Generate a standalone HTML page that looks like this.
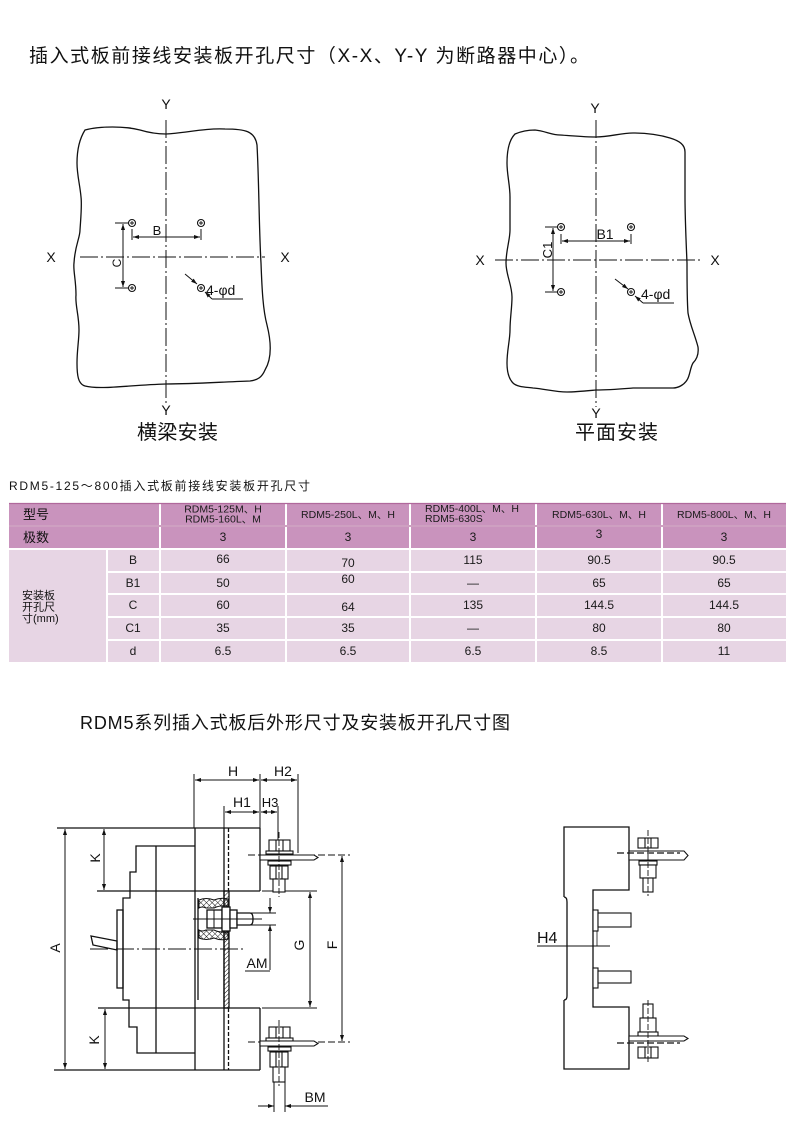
<!DOCTYPE html>
<html><head><meta charset="utf-8"><style>
html,body{margin:0;padding:0;background:#fff;}
svg{display:block;}
text{font-family:"Liberation Sans","Noto Sans CJK SC",sans-serif;fill:#111;}
.t{font-size:12px;fill:#1a1a1a;text-anchor:middle;}
.h{font-size:10.5px;fill:#1a1a1a;}
</style></head><body>
<svg width="790" height="1137" viewBox="0 0 790 1137" xmlns="http://www.w3.org/2000/svg">
<defs>
<marker id="ar" viewBox="0 0 10 10" refX="10" refY="5" markerWidth="6" markerHeight="6" orient="auto-start-reverse" markerUnits="userSpaceOnUse"><path d="M0,1.6L10,5L0,8.4z" fill="#111"/></marker>
<pattern id="hatch" width="3" height="3" patternUnits="userSpaceOnUse" patternTransform="rotate(45)"><line x1="0" y1="0" x2="0" y2="3" stroke="#111" stroke-width="1"/></pattern>
<pattern id="xh" width="4" height="4" patternUnits="userSpaceOnUse" patternTransform="rotate(45)"><path d="M0,0V4M0,0H4" stroke="#111" stroke-width="0.9" fill="none"/></pattern>
</defs>
<rect width="790" height="1137" fill="#fff"/>

<text x="29" y="62" font-size="19" textLength="560" lengthAdjust="spacing">插入式板前接线安装板开孔尺寸（X-X、Y-Y 为断路器中心）。</text>

<g stroke="#111" stroke-width="1.3" fill="none">
<path d="M85,130 C100,126 125,126 140,130 C150,133 158,134 166,134 C185,133 205,128 225,129 C245,129 255,131 257,145 C259,180 259,230 261,263 C262,290 263,310 267,325 C272,345 271,360 265,370 C262,377 258,380 250,381 C220,382 195,384 166,384 C130,385 100,390 85,386 C78,384 77,375 77,363 C77,350 79,340 79,330 C79,315 75,305 76,295 C76,280 73,270 74,263 C75,245 80,238 80,230 C81,215 82,205 81,197 C80,185 77,175 77,163 C77,150 80,138 85,130 Z"/>
<line x1="166" y1="120" x2="166" y2="405" stroke-width="1" stroke-dasharray="18 3 2 3"/>
<line x1="80" y1="257" x2="265" y2="257" stroke-width="1" stroke-dasharray="18 3 2 3"/>
<g stroke-width="1">
<line x1="132" y1="229" x2="132" y2="240"/>
<line x1="201" y1="229" x2="201" y2="240"/>
<line x1="133" y1="237" x2="200" y2="237" marker-start="url(#ar)" marker-end="url(#ar)"/>
<line x1="115" y1="223" x2="129" y2="223"/>
<line x1="115" y1="288" x2="129" y2="288"/>
<line x1="123" y1="224" x2="123" y2="287" marker-start="url(#ar)" marker-end="url(#ar)"/>
<line x1="185" y1="274" x2="197" y2="284" marker-end="url(#ar)"/>
<line x1="212" y1="299" x2="205" y2="292" marker-end="url(#ar)"/>
<line x1="212" y1="299" x2="243" y2="299"/>
</g>
<g stroke-width="1.1" fill="#fff">
<circle cx="132" cy="223" r="3.5"/><circle cx="201" cy="223" r="3.5"/>
<circle cx="132" cy="288" r="3.5"/><circle cx="201" cy="288" r="3.5"/>
</g>
<g stroke-width="0.9">
<path d="M130,223h4M132,221v4M199,223h4M201,221v4M130,288h4M132,286v4M199,288h4M201,286v4"/>
</g>
</g>
<text x="166" y="109" font-size="14" text-anchor="middle">Y</text>
<text x="166" y="415" font-size="14" text-anchor="middle">Y</text>
<text x="51" y="262" font-size="14" text-anchor="middle">X</text>
<text x="285" y="262" font-size="14" text-anchor="middle">X</text>
<text x="157" y="235" font-size="13" text-anchor="middle">B</text>
<text x="117" y="267" font-size="12" text-anchor="middle" transform="rotate(-90 117 263)">C</text>
<text x="206" y="295" font-size="14">4-φd</text>
<text x="137" y="439" font-size="20" textLength="81" lengthAdjust="spacing">横梁安装</text>

<g stroke="#111" stroke-width="1.3" fill="none">
<path d="M515,134 C522,131 528,130 535,130 C545,131 552,135 560,135 C575,136 585,137 596,137 C610,137 620,133 633,133 C648,133 660,135 670,138 C680,141 685,145 685,152 C685,165 685,180 685,197 C685,215 686,240 687,263 C687,285 687,300 688,313 C690,325 695,335 698,347 C699,355 696,360 693,363 C690,368 690,376 687,380 C684,385 678,388 673,388 C660,388 645,388 633,388 C620,389 608,390 596,390 C585,391 575,392 567,392 C555,392 545,389 533,388 C525,387 517,387 513,383 C508,378 507,370 507,363 C507,350 510,340 510,330 C510,318 512,308 512,297 C512,285 506,275 506,263 C506,250 510,240 510,230 C510,218 510,208 510,197 C510,185 507,175 507,163 C507,150 509,140 515,134 Z"/>
<line x1="596" y1="120" x2="596" y2="407" stroke-width="1" stroke-dasharray="18 3 2 3"/>
<line x1="495" y1="260" x2="702" y2="260" stroke-width="1" stroke-dasharray="18 3 2 3"/>
<g stroke-width="1">
<line x1="561" y1="234" x2="561" y2="244"/>
<line x1="631" y1="234" x2="631" y2="244"/>
<line x1="562" y1="241" x2="630" y2="241" marker-start="url(#ar)" marker-end="url(#ar)"/>
<line x1="545" y1="227" x2="558" y2="227"/>
<line x1="545" y1="292" x2="558" y2="292"/>
<line x1="553" y1="228" x2="553" y2="291" marker-start="url(#ar)" marker-end="url(#ar)"/>
<line x1="615" y1="279" x2="628" y2="289" marker-end="url(#ar)"/>
<line x1="643" y1="303" x2="635" y2="296" marker-end="url(#ar)"/>
<line x1="643" y1="303" x2="674" y2="303"/>
</g>
<g stroke-width="1.1" fill="#fff">
<circle cx="561" cy="227" r="3.5"/><circle cx="631" cy="227" r="3.5"/>
<circle cx="561" cy="292" r="3.5"/><circle cx="631" cy="292" r="3.5"/>
</g>
<g stroke-width="0.9">
<path d="M559,227h4M561,225v4M629,227h4M631,225v4M559,292h4M561,290v4M629,292h4M631,290v4"/>
</g>
</g>
<text x="595" y="113" font-size="14" text-anchor="middle">Y</text>
<text x="596" y="418" font-size="14" text-anchor="middle">Y</text>
<text x="480" y="265" font-size="14" text-anchor="middle">X</text>
<text x="715" y="265" font-size="14" text-anchor="middle">X</text>
<text x="605" y="239" font-size="14" text-anchor="middle">B1</text>
<text x="548" y="254" font-size="13" text-anchor="middle" transform="rotate(-90 548 250)">C1</text>
<text x="641" y="299" font-size="14">4-φd</text>
<text x="575" y="439" font-size="20" textLength="83" lengthAdjust="spacing">平面安装</text>

<text x="9" y="490" font-size="12" textLength="301" lengthAdjust="spacing">RDM5-125～800插入式板前接线安装板开孔尺寸</text>
<g fill="#c993bd">
<rect x="9" y="503" width="150" height="22"/>
<rect x="161" y="503" width="124" height="22"/>
<rect x="287" y="503" width="122" height="22"/>
<rect x="411" y="503" width="124" height="22"/>
<rect x="537" y="503" width="124" height="22"/>
<rect x="663" y="503" width="123" height="22"/>
<rect x="9" y="527" width="150" height="21"/>
<rect x="161" y="527" width="124" height="21"/>
<rect x="287" y="527" width="122" height="21"/>
<rect x="411" y="527" width="124" height="21"/>
<rect x="537" y="527" width="124" height="21"/>
<rect x="663" y="527" width="123" height="21"/>
</g>
<line x1="9" y1="503.5" x2="786" y2="503.5" stroke="#b0689c" stroke-width="1.2"/>
<line x1="9" y1="526" x2="786" y2="526" stroke="#b0689c" stroke-width="1.2"/>
<g fill="#e7d5e4">
<rect x="9" y="550" width="97" height="112"/>
<rect x="108" y="550" width="51" height="21"/>
<rect x="108" y="573" width="51" height="20"/>
<rect x="108" y="595" width="51" height="21"/>
<rect x="108" y="618" width="51" height="21"/>
<rect x="108" y="641" width="51" height="21"/>
<rect x="161" y="550" width="124" height="21"/><rect x="287" y="550" width="122" height="21"/><rect x="411" y="550" width="124" height="21"/><rect x="537" y="550" width="124" height="21"/><rect x="663" y="550" width="123" height="21"/>
<rect x="161" y="573" width="124" height="20"/><rect x="287" y="573" width="122" height="20"/><rect x="411" y="573" width="124" height="20"/><rect x="537" y="573" width="124" height="20"/><rect x="663" y="573" width="123" height="20"/>
<rect x="161" y="595" width="124" height="21"/><rect x="287" y="595" width="122" height="21"/><rect x="411" y="595" width="124" height="21"/><rect x="537" y="595" width="124" height="21"/><rect x="663" y="595" width="123" height="21"/>
<rect x="161" y="618" width="124" height="21"/><rect x="287" y="618" width="122" height="21"/><rect x="411" y="618" width="124" height="21"/><rect x="537" y="618" width="124" height="21"/><rect x="663" y="618" width="123" height="21"/>
<rect x="161" y="641" width="124" height="21"/><rect x="287" y="641" width="122" height="21"/><rect x="411" y="641" width="124" height="21"/><rect x="537" y="641" width="124" height="21"/><rect x="663" y="641" width="123" height="21"/>
</g>
<text x="23" y="519" font-size="13" fill="#1a1a1a">型号</text>
<text x="23" y="542" font-size="13" fill="#1a1a1a">极数</text>
<text class="h" x="223" y="512.5" text-anchor="middle">RDM5-125M、H</text>
<text class="h" x="223" y="522.5" text-anchor="middle">RDM5-160L、M</text>
<text class="h" x="348" y="518" text-anchor="middle" font-size="11.5">RDM5-250L、M、H</text>
<text class="h" x="425" y="512">RDM5-400L、M、H</text>
<text class="h" x="425" y="522">RDM5-630S</text>
<text class="h" x="599" y="518" text-anchor="middle" font-size="11.5">RDM5-630L、M、H</text>
<text class="h" x="724" y="518" text-anchor="middle" font-size="11.5">RDM5-800L、M、H</text>
<text class="t" x="223" y="541">3</text><text class="t" x="348" y="541">3</text><text class="t" x="473" y="541">3</text><text class="t" x="599" y="538">3</text><text class="t" x="724" y="541">3</text>
<text x="22" y="599" font-size="11" fill="#1a1a1a">安装板</text>
<text x="22" y="610.5" font-size="11" fill="#1a1a1a">开孔尺</text>
<text x="22" y="622" font-size="11" fill="#1a1a1a">寸(mm)</text>
<text class="t" x="133" y="564">B</text><text class="t" x="133" y="587">B1</text><text class="t" x="133" y="609">C</text><text class="t" x="133" y="632">C1</text><text class="t" x="133" y="655">d</text>
<text class="t" x="223" y="563">66</text><text class="t" x="348" y="567">70</text><text class="t" x="473" y="564">115</text><text class="t" x="599" y="564">90.5</text><text class="t" x="724" y="564">90.5</text>
<text class="t" x="223" y="587">50</text><text class="t" x="348" y="583">60</text><text class="t" x="473" y="587">—</text><text class="t" x="599" y="587">65</text><text class="t" x="724" y="587">65</text>
<text class="t" x="223" y="609">60</text><text class="t" x="348" y="611">64</text><text class="t" x="473" y="609">135</text><text class="t" x="599" y="609">144.5</text><text class="t" x="724" y="609">144.5</text>
<text class="t" x="223" y="632">35</text><text class="t" x="348" y="632">35</text><text class="t" x="473" y="632">—</text><text class="t" x="599" y="632">80</text><text class="t" x="724" y="632">80</text>
<text class="t" x="223" y="655">6.5</text><text class="t" x="348" y="655">6.5</text><text class="t" x="473" y="655">6.5</text><text class="t" x="599" y="655">8.5</text><text class="t" x="724" y="655">11</text>

<text x="80" y="729" font-size="18" textLength="430" lengthAdjust="spacing">RDM5系列插入式板后外形尺寸及安装板开孔尺寸图</text>

<g stroke="#111" stroke-width="1.3" fill="none">
<line x1="57" y1="828" x2="260" y2="828"/>
<line x1="54" y1="1070" x2="260" y2="1070"/>
<line x1="97" y1="891" x2="260" y2="891"/>
<line x1="98" y1="1008" x2="260" y2="1008"/>
<line x1="195" y1="828" x2="195" y2="1070"/>
<line x1="260" y1="828" x2="260" y2="891"/>
<line x1="260" y1="1008" x2="260" y2="1070"/>
<line x1="224" y1="828" x2="224" y2="1070"/>
<line x1="228.5" y1="828" x2="228.5" y2="891" stroke-dasharray="4 2"/>
<line x1="228.5" y1="1008" x2="228.5" y2="1070" stroke-dasharray="4 2"/>
<rect x="224" y="891" width="5" height="117" fill="url(#hatch)"/>
<line x1="198" y1="898" x2="198" y2="1000"/>
<path d="M195,846 H136 V872 H130 V898 H123 V1000 H129 V1027 H137 V1053 H195"/>
<line x1="156" y1="846" x2="156" y2="1053"/>
<rect x="117" y="910" width="6" height="78"/>
<path d="M91,936 L117,941 L117,950 L93,945 Z"/>
<line x1="90" y1="949" x2="243" y2="949" stroke-width="1" stroke-dasharray="18 3 2 3"/>
<path d="M199,900 Q206,897 214,900 Q221,897 228,899 L228,906 Q220,905 214,908 L206,908 Q202,906 199,908 Z" fill="url(#xh)" stroke-width="1"/>
<path d="M199,930 Q202,932 206,930 L214,930 Q220,933 228,932 L228,939 Q221,941 214,938 Q206,941 199,938 Z" fill="url(#xh)" stroke-width="1"/>
<rect x="207" y="910" width="15" height="18" fill="#fff"/>
<line x1="214" y1="910" x2="214" y2="928" stroke-width="1"/>
<rect x="222" y="907" width="8" height="24" fill="#fff"/>
<rect x="230" y="910" width="7" height="18" fill="#fff"/>
<path d="M237,913 H250 Q253,913 253,919 Q253,925 250,925 H237 Z" fill="#fff"/>
<line x1="193" y1="919" x2="262" y2="919" stroke-width="1"/>
<g stroke-width="1">
<line x1="250" y1="913" x2="276" y2="913"/>
<line x1="250" y1="925" x2="276" y2="925"/>
<line x1="270" y1="898" x2="270" y2="913" marker-end="url(#ar)"/>
<line x1="270" y1="970" x2="270" y2="925" marker-end="url(#ar)"/>
<line x1="245" y1="971" x2="270" y2="971"/>
</g>
<g stroke-width="1">
<line x1="194" y1="774" x2="194" y2="828"/>
<line x1="260" y1="774" x2="260" y2="828"/>
<line x1="298" y1="774" x2="298" y2="853"/>
<line x1="195" y1="780" x2="259" y2="780" marker-start="url(#ar)" marker-end="url(#ar)"/>
<line x1="261" y1="780" x2="297" y2="780" marker-start="url(#ar)" marker-end="url(#ar)"/>
<line x1="224" y1="806" x2="224" y2="828"/>
<line x1="278" y1="806" x2="278" y2="840"/>
<line x1="225" y1="812" x2="259" y2="812" marker-start="url(#ar)" marker-end="url(#ar)"/>
<line x1="261" y1="812" x2="277" y2="812" marker-start="url(#ar)" marker-end="url(#ar)"/>
<line x1="65" y1="829" x2="65" y2="1069" marker-start="url(#ar)" marker-end="url(#ar)"/>
<line x1="104" y1="829" x2="104" y2="890" marker-start="url(#ar)" marker-end="url(#ar)"/>
<line x1="105" y1="1009" x2="105" y2="1069" marker-start="url(#ar)" marker-end="url(#ar)"/>
<line x1="262" y1="891" x2="317" y2="891"/>
<line x1="262" y1="1008" x2="317" y2="1008"/>
<line x1="310" y1="892" x2="310" y2="1007" marker-start="url(#ar)" marker-end="url(#ar)"/>
<line x1="248" y1="855" x2="350" y2="855" stroke-dasharray="7 3"/>
<line x1="248" y1="1042" x2="350" y2="1042" stroke-dasharray="7 3"/>
<line x1="342" y1="856" x2="342" y2="1041" marker-start="url(#ar)" marker-end="url(#ar)"/>
<line x1="274" y1="1082" x2="274" y2="1112"/>
<line x1="285" y1="1082" x2="285" y2="1112"/>
<line x1="258" y1="1106" x2="274" y2="1106" marker-end="url(#ar)"/>
<line x1="328" y1="1106" x2="285" y2="1106" marker-end="url(#ar)"/>
</g>
<g stroke-width="1.1" fill="#fff">
<rect x="269" y="840" width="21" height="11"/>
<path d="M276,840v11M283,840v11" fill="none"/>
<rect x="266" y="851" width="27" height="3"/>
<path d="M260,855 H314 L318,857.5 L314,860 H260 Z"/>
<rect x="268" y="861" width="23" height="4"/>
<rect x="270" y="866" width="18" height="13"/>
<path d="M276,866v13M282,866v13" fill="none"/>
<rect x="273" y="879" width="12" height="13"/>
</g>
<line x1="279" y1="832" x2="279" y2="897" stroke-width="0.9" stroke-dasharray="6 2"/>
<g stroke-width="1.1" fill="#fff">
<rect x="269" y="1027" width="21" height="11"/>
<path d="M276,1027v11M283,1027v11" fill="none"/>
<rect x="266" y="1038" width="27" height="3"/>
<path d="M260,1041 H314 L318,1043.5 L314,1046 H260 Z"/>
<rect x="268" y="1047" width="23" height="4"/>
<rect x="270" y="1052" width="18" height="15"/>
<path d="M276,1052v15M282,1052v15" fill="none"/>
<rect x="273" y="1067" width="12" height="15"/>
</g>
<line x1="279" y1="1020" x2="279" y2="1086" stroke-width="0.9" stroke-dasharray="6 2"/>
</g>
<g font-size="14">
<text x="233" y="776" text-anchor="middle">H</text>
<text x="283" y="776" text-anchor="middle">H2</text>
<text x="242" y="807" text-anchor="middle">H1</text>
<text x="270" y="807" text-anchor="middle" font-size="13">H3</text>
<text x="55" y="953" text-anchor="middle" transform="rotate(-90 55 948)">A</text>
<text x="95" y="863" text-anchor="middle" transform="rotate(-90 95 858)">K</text>
<text x="94" y="1045" text-anchor="middle" transform="rotate(-90 94 1040)">K</text>
<text x="257" y="968" text-anchor="middle">AM</text>
<text x="299" y="950" text-anchor="middle" transform="rotate(-90 299 945)">G</text>
<text x="332" y="950" text-anchor="middle" transform="rotate(-90 332 945)">F</text>
<text x="315" y="1102" text-anchor="middle">BM</text>
</g>

<g stroke="#111" stroke-width="1.3" fill="none">
<path d="M564,897 V827 H629 V890 H593 V1007 H629 V1069 H564 V1000"/>
<path d="M564,897 Q567,897 567,902 V996 Q567,1000 564,1000" />
<rect x="593" y="910" width="5" height="21" fill="#fff" stroke-width="1.1"/>
<rect x="598" y="913" width="33" height="14" fill="#fff" stroke-width="1.1"/>
<rect x="593" y="968" width="5" height="20" fill="#fff" stroke-width="1.1"/>
<rect x="598" y="971" width="33" height="12" fill="#fff" stroke-width="1.1"/>
<line x1="537" y1="946" x2="610" y2="946" stroke-width="1"/>
<line x1="597" y1="931" x2="597" y2="946" stroke-width="0.8"/>
<g stroke-width="1.1" fill="#fff">
<rect x="638" y="838" width="20" height="10"/>
<path d="M645,838v10M651,838v10" fill="none"/>
<path d="M629,851 H684 L688,855.5 L684,860 H629 Z"/>
<rect x="639" y="861" width="18" height="4"/>
<rect x="640" y="865" width="16" height="13"/>
<rect x="643" y="878" width="10" height="14"/>
</g>
<line x1="617" y1="853" x2="680" y2="853" stroke-width="1.2" stroke-dasharray="7 3"/>
<line x1="648" y1="830" x2="648" y2="896" stroke-width="0.9" stroke-dasharray="6 2"/>
<g stroke-width="1.1" fill="#fff">
<rect x="643" y="1004" width="10" height="14"/>
<rect x="640" y="1018" width="16" height="14"/>
<rect x="638" y="1032" width="20" height="4"/>
<path d="M629,1036 H684 L688,1038.5 L684,1041 H629 Z"/>
<rect x="638" y="1047" width="20" height="11"/>
<path d="M645,1047v11M651,1047v11" fill="none"/>
</g>
<line x1="617" y1="1043" x2="680" y2="1043" stroke-width="1.2" stroke-dasharray="7 3"/>
<line x1="648" y1="1000" x2="648" y2="1063" stroke-width="0.9" stroke-dasharray="6 2"/>
</g>
<text x="537" y="943" font-size="16">H4</text>
</svg>
</body></html>
